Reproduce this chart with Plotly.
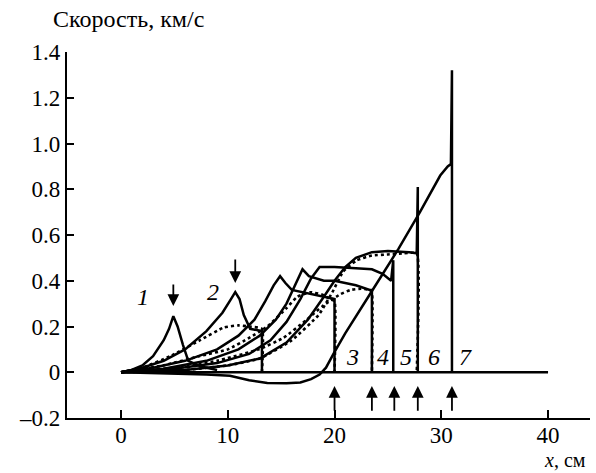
import plotly.graph_objects as go

# ---- data (x in cm, velocity in km/s) ----
c1_x = [0, 1, 2, 3, 4, 4.5, 4.9, 5.3, 5.8, 6.3, 7.5, 9]
c1_y = [0, 0.01, 0.03, 0.07, 0.14, 0.19, 0.245, 0.2, 0.12, 0.05, 0.025, 0.01]

c2_x = [0, 2, 4, 6, 8, 9.5, 10.3, 10.7, 11.1, 11.5, 12.1, 13.1, 13.2, 13.2]
c2_y = [0, 0.02, 0.05, 0.1, 0.18, 0.26, 0.32, 0.35, 0.32, 0.25, 0.19, 0.18, 0.18, 0]

c3_x = [0, 3, 6, 9, 11, 12.5, 13.5, 14.3, 14.9, 15.4, 16, 17, 18, 19, 19.8, 20, 20]
c3_y = [0, 0.02, 0.05, 0.1, 0.16, 0.23, 0.31, 0.38, 0.42, 0.39, 0.36, 0.35, 0.34, 0.33, 0.32, 0.32, 0]

c4_x = [0, 4, 8, 11, 13, 14.5, 15.5, 16.3, 17, 17.6, 18.2, 19, 20, 21, 22, 23.3, 23.5, 23.5]
c4_y = [0, 0.015, 0.05, 0.1, 0.16, 0.23, 0.3, 0.38, 0.45, 0.42, 0.41, 0.4, 0.4, 0.39, 0.38, 0.36, 0.36, 0]

c5_x = [0, 5, 9, 12, 14, 15.5, 16.8, 17.8, 18.6, 20, 22, 23.5, 24.5, 25.3, 25.5, 25.5]
c5_y = [0, 0.015, 0.04, 0.08, 0.14, 0.22, 0.32, 0.41, 0.46, 0.46, 0.455, 0.45, 0.43, 0.40, 0.49, 0]

c6_x = [0, 6, 10, 13, 15.5, 17.5, 19, 20, 21, 22, 23.5, 25, 27, 27.7, 27.8, 27.8]
c6_y = [0, 0.01, 0.03, 0.06, 0.13, 0.23, 0.33, 0.40, 0.46, 0.5, 0.525, 0.53, 0.525, 0.52, 0.81, 0]

c7_x = [0, 4, 8, 10.2, 12, 13.7, 15.5, 16.8, 17.8, 18.6, 19.2, 19.9, 21, 23.3, 26, 28, 29.9, 30.6, 30.9, 31, 31]
c7_y = [0, -0.004, -0.01, -0.015, -0.035, -0.047, -0.048, -0.045, -0.03, -0.01, 0.02, 0.08, 0.17, 0.34, 0.54, 0.70, 0.86, 0.9, 0.91, 1.32, 0]

d2_x = [0, 2, 4.6, 7.4, 9.6, 11, 12, 13.2, 13.2]
d2_y = [0, 0.02, 0.07, 0.14, 0.195, 0.205, 0.2, 0.19, 0]

d3_x = [0, 4, 7.3, 10, 12, 13.7, 15.5, 16.5, 17.7, 18.8, 19.6, 20, 20]
d3_y = [0, 0.03, 0.07, 0.1, 0.15, 0.2, 0.28, 0.33, 0.35, 0.34, 0.32, 0.31, 0]

d4_x = [0, 5, 9, 12.9, 15.2, 17.4, 18.9, 20.5, 21.5, 22.5, 23.3, 23.5, 23.5]
d4_y = [0, 0.02, 0.05, 0.1, 0.15, 0.23, 0.29, 0.34, 0.36, 0.365, 0.36, 0.35, 0]

d6_x = [0, 6, 10, 13, 16, 18.5, 19.8, 20.8, 22.1, 23.5, 25, 26.5, 27.7, 27.7]
d6_y = [0, 0.01, 0.03, 0.06, 0.14, 0.25, 0.35, 0.44, 0.49, 0.51, 0.515, 0.52, 0.52, 0]

base_x = [0, 40]
base_y = [0, 0]

down_arrow_x = [4.9, 10.7]
down_arrow_top = [0.39, 0.50]
down_arrow_tip = [0.29, 0.39]

up_arrow_x = [20, 23.5, 25.6, 27.8, 31]
up_arrow_bottom = -0.175
up_arrow_tip = -0.06

curve_label_text = ["1", "2", "3", "4", "5", "6", "7"]
curve_label_x = [2.1, 8.6, 21.7, 24.5, 26.7, 29.3, 32.3]
curve_label_y = [0.33, 0.35, 0.066, 0.066, 0.066, 0.066, 0.066]

x_ticks = [0, 10, 20, 30, 40]
y_ticks = [-0.2, 0, 0.2, 0.4, 0.6, 0.8, 1.0, 1.2, 1.4]
y_tick_text = ["\u20130.2", "0", "0.2", "0.4", "0.6", "0.8", "1.0", "1.2", "1.4"]

FONT = "Liberation Serif, Times New Roman, serif"

fig = go.Figure()

fig.add_trace(go.Scatter(x=base_x, y=base_y, mode="lines",
                         line=dict(color="black", width=2.5), hoverinfo="skip"))

for xs, ys in [(d2_x, d2_y), (d3_x, d3_y), (d4_x, d4_y), (d6_x, d6_y)]:
    fig.add_trace(go.Scatter(x=xs, y=ys, mode="lines",
                             line=dict(color="black", width=2.6, dash="dot", shape="spline", smoothing=0.4)))

for xs, ys in [(c1_x, c1_y), (c2_x, c2_y), (c3_x, c3_y), (c4_x, c4_y),
               (c5_x, c5_y), (c6_x, c6_y), (c7_x, c7_y)]:
    fig.add_trace(go.Scatter(x=xs, y=ys, mode="lines",
                             line=dict(color="black", width=2.5)))

annotations = []
for x, t, tip in zip(down_arrow_x, down_arrow_top, down_arrow_tip):
    annotations.append(dict(x=x, y=tip, ax=x, ay=t, xref="x", yref="y", axref="x", ayref="y",
                            showarrow=True, arrowhead=2, arrowsize=1.3, arrowwidth=1.8,
                            arrowcolor="black", text=""))
for x in up_arrow_x:
    annotations.append(dict(x=x, y=up_arrow_tip, ax=x, ay=up_arrow_bottom, xref="x", yref="y",
                            axref="x", ayref="y", showarrow=True, arrowhead=2, arrowsize=1.3,
                            arrowwidth=1.8, arrowcolor="black", text=""))
for t, x, y in zip(curve_label_text, curve_label_x, curve_label_y):
    annotations.append(dict(x=x, y=y, xref="x", yref="y", text="<i>%s</i>" % t, showarrow=False,
                            font=dict(family=FONT, size=24, color="black")))

annotations.append(dict(x=0, y=1.09, xref="paper", yref="paper", xanchor="left", xshift=-16,
                        yanchor="middle", text="Скорость, км/с", showarrow=False,
                        font=dict(family=FONT, size=24, color="black")))
annotations.append(dict(x=1, y=-0.148, xref="paper", yref="paper", xanchor="right", xshift=-3,
                        yanchor="bottom", borderpad=0, text="<i>x</i>, см", showarrow=False,
                        font=dict(family=FONT, size=20, color="black")))

fig.update_layout(
    width=596, height=473,
    margin=dict(l=67, r=6, t=52, b=55),
    paper_bgcolor="white", plot_bgcolor="white",
    showlegend=False,
    annotations=annotations,
    xaxis=dict(range=[-5.06, 43.93], tickvals=x_ticks, ticks="inside", ticklen=8,
               tickwidth=2, tickcolor="black", showline=True, linecolor="black",
               linewidth=2.2, showgrid=False, zeroline=False, ticklabelstandoff=-5,
               tickfont=dict(family=FONT, size=23, color="black")),
    yaxis=dict(range=[-0.2, 1.4], tickvals=y_ticks, ticktext=y_tick_text, ticks="inside",
               ticklen=7, tickwidth=2, tickcolor="black", showline=True, linecolor="black",
               linewidth=2.2, showgrid=False, zeroline=False,
               tickfont=dict(family=FONT, size=23, color="black")),
)

fig.write_html("out.html")
